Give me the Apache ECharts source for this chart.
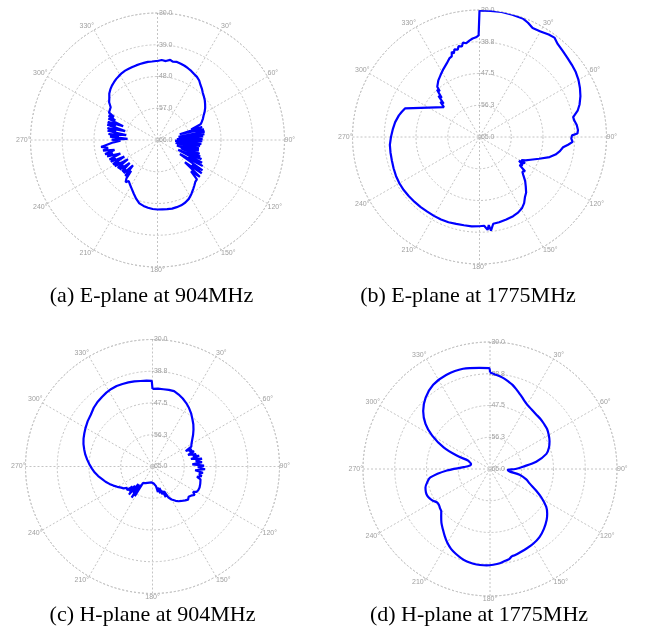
<!DOCTYPE html>
<html>
<head>
<meta charset="utf-8">
<script src="https://cdn.jsdelivr.net/npm/echarts@6/dist/echarts.min.js"></script>
<style>
  html, body { margin: 0; padding: 0; background: #fff; }
  #chart { width: 646px; height: 628px; }
</style>
</head>
<body>
<div id="chart"></div>
<script>
// Radial tick values (dB), outer ring last
const ticks904 = [-66, -57, -48, -39, -30];
const ticks1775 = [-65, -56.25, -47.5, -38.75, -30];

const captions = [
    '(a) E-plane at 904MHz',
    '(b) E-plane at 1775MHz',
    '(c) H-plane at 904MHz',
    '(d) H-plane at 1775MHz'
];

// [angle in degrees, gain in dB]
const ePlane904 = [
    [0, -43.6], [3, -43.3], [6, -43.5], [9, -43.0], [11, -43.4], [14, -43.2], [17, -43.4], [20, -43.6],
    [23, -43.9], [26, -44.2], [29, -44.6], [32, -44.9], [35, -45.4], [38, -46.2], [41, -46.8], [44, -47.5],
    [47, -48.0], [50, -48.5], [53, -49.1], [56, -49.7], [59, -50.4], [62, -51.2], [65, -51.8], [68, -52.5],
    [70, -53.0], [71, -53.2], [72.5, -56.0], [74, -52.8], [75.5, -59.5], [77, -52.5], [79, -55.0], [80, -52.4],
    [81.5, -60.0], [83, -52.6], [84, -57.0], [85.5, -53.0], [87.5, -60.5], [89, -53.2], [90, -55.5], [91.5, -53.3],
    [93, -61.0], [95, -53.5], [96.5, -58.0], [98, -53.8], [99.5, -60.8], [101.5, -54.0], [103, -56.5], [104.5, -53.9],
    [106, -60.3], [108, -53.4], [109.5, -59.0], [111, -53.0], [112, -55.5], [113.5, -52.4], [115.5, -59.5], [117, -51.8],
    [118.5, -56.0], [120, -51.2], [122, -58.5], [124, -50.6], [125.5, -54.0], [127, -50.3], [129, -56.0], [131, -50.1],
    [133, -53.0], [135, -50.2],
    [138, -50.0], [141, -49.4], [144, -48.8], [148, -47.9], [152, -47.1], [156, -46.6], [160, -46.3], [164, -46.2],
    [168, -46.1], [172, -46.2], [176, -46.3], [180, -46.3], [184, -46.4], [188, -46.6], [192, -46.9], [196, -47.3],
    [200, -48.3], [204, -49.4], [208, -50.4], [212, -51.2], [215, -51.8], [217, -51.0], [219, -52.0],
    [220.5, -54.5], [222, -52.3], [224, -56.0], [225.5, -52.6], [227, -53.8], [228.5, -52.6], [230.5, -55.8], [232, -52.4],
    [233.5, -54.0], [235, -52.2], [237, -56.0], [238.5, -51.8], [240, -53.5], [241.5, -51.6], [243.5, -55.5], [245, -51.4],
    [246.5, -53.0], [248, -51.3], [250, -54.8], [252, -51.0], [253.5, -52.8], [255, -50.6], [257, -53.5], [259, -50.3],
    [261, -51.8], [263, -49.9], [265, -49.7], [267, -53.5],
    [269, -55.5], [270.5, -53.0], [272, -57.5], [274, -52.5], [275.5, -55.0], [277, -52.0], [279, -57.0], [280.5, -51.6],
    [282, -54.0], [283.5, -51.4], [285.5, -56.5], [287, -51.1], [288.5, -53.5], [290, -51.0], [292, -55.5], [293.5, -50.8],
    [295, -52.8], [296.5, -50.5], [298, -52.0], [299.5, -50.2],
    [302, -50.3], [305, -49.8], [308, -48.6], [311, -47.9], [314, -47.0], [317, -46.4], [320, -45.9],
    [323, -45.5], [326, -45.1], [329, -44.8], [332, -44.5], [335, -44.3], [338, -44.2], [341, -44.1], [344, -44.0],
    [347, -43.9], [350, -43.8], [353, -43.7], [356, -43.7], [359, -43.6], [360, -43.6]
];

const ePlane1775 = [
    [0, -30.1], [5, -30.1], [10, -30.0], [15, -30.1], [20, -30.2], [23, -30.8], [26, -31.6], [30, -31.4],
    [34, -30.9], [37, -30.7], [40, -31.5], [44, -32.0], [48, -32.4], [52, -32.7], [56, -33.0], [60, -33.5],
    [64, -34.2], [68, -35.0], [72, -36.0], [75, -37.0], [78, -38.6], [80, -38.5], [83, -38.0], [86, -37.8],
    [88, -38.0], [89, -39.5], [91, -39.7], [93, -39.3], [95, -40.5], [97, -41.8], [100, -42.5], [103, -43.5],
    [106, -44.9], [110, -47.5], [114, -49.6], [117, -50.8], [119, -51.8], [120, -50.5], [121, -52.3], [123, -50.8],
    [125, -51.5], [127, -49.3], [129, -49.8], [131, -49.0], [134, -47.5], [137, -46.3], [140, -45.0], [143, -44.2],
    [146, -43.0], [149, -42.2], [153, -41.6], [157, -41.3], [162, -41.1], [167, -40.9], [171, -40.8], [173, -39.0],
    [174, -40.6], [175, -39.3], [177, -40.5], [180, -40.4], [185, -40.3], [190, -40.3], [195, -40.2], [200, -40.0],
    [205, -39.9], [210, -39.9], [215, -39.9], [220, -39.8], [225, -39.7], [230, -39.6], [235, -39.5], [240, -39.5],
    [245, -39.6], [250, -39.8], [255, -40.0], [260, -40.1], [265, -40.2], [270, -40.6], [275, -41.0], [280, -41.4],
    [285, -42.0], [288, -42.5], [291, -43.0], [310, -52.2], [312, -50.5], [313, -51.5], [315, -49.0], [316, -50.0],
    [318, -47.5], [319, -48.3], [320, -46.9], [324, -45.7], [328, -44.8], [332, -43.8], [336, -42.8], [339, -41.8],
    [341, -41.5], [342, -40.3], [343, -40.9], [344, -39.9], [346, -40.2], [347, -39.3], [349, -39.6], [350, -38.6],
    [352, -38.9], [354, -38.3], [356, -37.8], [358, -37.5], [359.5, -37.0], [360, -30.1]
];

const hPlane904 = [
    [0, -43.6], [4, -43.5], [8, -43.5], [12, -43.4], [16, -43.4], [20, -43.9], [24, -44.5], [28, -45.2],
    [32, -46.0], [36, -46.9], [40, -47.9], [44, -48.8], [48, -49.8], [52, -50.8], [56, -51.8], [60, -52.6],
    [63, -53.0], [65, -54.9], [66.5, -53.2], [68, -54.0], [70, -52.8], [72, -54.7], [74, -52.5], [75.5, -53.5],
    [77, -51.8], [79, -54.2], [81, -51.2], [83, -53.0], [85, -51.3], [87, -54.0], [89, -50.8], [91, -52.5],
    [93, -50.5], [95, -53.2], [97, -51.0], [99, -52.0], [101, -51.2], [103, -52.4], [105, -51.3], [110, -51.0],
    [114, -50.8], [117, -50.8], [120, -51.0], [122, -51.8], [124, -51.0], [126, -51.5], [128, -51.3], [130, -52.0],
    [133, -51.6], [136, -52.0], [140, -52.6], [143, -53.0], [146, -53.6], [150, -54.5], [153, -55.5], [155, -57.5],
    [156.5, -55.8], [158, -57.8], [160, -56.8], [162, -58.8], [164, -57.3], [166, -59.0], [168, -57.8], [170, -59.5],
    [173, -59.8], [176, -60.3], [179, -60.6], [183, -60.6], [190, -60.6], [197, -60.3], [203, -60.0], [207, -59.8],
    [210, -59.7], [211, -55.5], [212.5, -59.0], [214, -54.7], [215.5, -58.5], [217, -56.0], [218.5, -58.8], [220, -54.9],
    [222, -57.8], [223.5, -55.6], [225, -57.2], [227, -55.5], [230, -55.8], [233, -55.0], [236, -54.6], [240, -53.8],
    [244, -53.0], [248, -52.2],
    [252, -51.4], [256, -50.7], [260, -49.8], [264, -49.0], [268, -48.3], [272, -47.6], [276, -46.9], [280, -46.2],
    [284, -45.6], [288, -45.0], [292, -44.5], [296, -44.1], [300, -43.7], [305, -43.2], [310, -42.8], [315, -42.1],
    [320, -41.6], [324, -41.3], [328, -41.0], [332, -40.8], [336, -40.7], [340, -40.8], [344, -40.9], [348, -41.0],
    [352, -41.2], [356, -41.3], [359.5, -41.4], [360, -43.6]
];

const hPlane1775 = [
    [0, -38.4], [3, -38.9], [6, -39.3], [9, -39.8], [12, -40.4], [15, -41.0], [18, -41.8], [21, -42.6],
    [24, -43.3], [27, -44.0], [30, -44.5], [35, -45.0], [40, -45.3], [45, -45.4], [50, -45.6], [55, -45.8],
    [60, -46.3], [65, -46.9], [70, -47.7], [75, -48.9], [81, -52.1], [86, -55.9], [90, -58.0], [93, -60.1],
    [97, -59.6], [101, -56.7], [106, -54.6], [110, -53.4], [115, -51.0], [119, -48.8], [124, -46.3], [128, -45.0],
    [132, -44.0], [138, -42.8], [144, -41.8], [150, -41.2], [155, -40.9], [160, -40.6], [164, -40.3], [166, -40.2],
    [168, -39.6], [170, -39.4], [174, -38.9], [178, -38.6], [182, -38.4], [186, -38.4], [190, -38.5], [194, -38.7],
    [198, -39.2], [202, -39.8], [206, -40.5], [210, -41.5], [214, -42.7], [218, -43.9], [222, -45.0], [226, -46.3],
    [229, -47.2], [232, -47.5], [235, -47.8], [238, -47.7], [241, -47.0], [244, -46.5], [247, -46.2], [250, -46.2],
    [254, -46.5], [258, -47.3], [262, -48.4], [268, -53.1], [274, -57.7], [280, -59.4], [285, -59.6], [289, -59.0],
    [291, -58.6], [292, -55.1], [295, -50.9], [300, -46.6], [305, -43.3], [311, -40.6], [318, -38.5], [326, -37.0],
    [335, -36.4], [345, -36.4], [354, -37.0], [359.5, -37.2], [360, -38.4]
];

const panels = [
    { data: ePlane904, ticks: ticks904, center: [157.5, 140], caption: [151.5, 285] },
    { data: ePlane1775, ticks: ticks1775, center: [479.5, 137], caption: [468, 285] },
    { data: hPlane904, ticks: ticks1775, center: [152.5, 466.5], caption: [152.5, 604] },
    { data: hPlane1775, ticks: ticks1775, center: [490, 469], caption: [479, 604] }
];

const gridColor = '#c4c4c4';
const labelColor = '#a0a0a0';
const labelFont = 'Liberation Sans';

const chart = echarts.init(document.getElementById('chart'), null, { renderer: 'canvas' });

const option = {
    backgroundColor: '#fff',
    animation: false,
    title: panels.map((p, i) => ({
        text: captions[i],
        left: p.caption[0] - 5,
        top: p.caption[1] - 5,
        textAlign: 'center',
        textVerticalAlign: 'top',
        textStyle: { fontFamily: 'Liberation Serif', fontSize: 22, fontWeight: 'normal', color: '#000' }
    })),
    polar: panels.map(p => ({ center: p.center, radius: 127 })),
    angleAxis: panels.map((p, i) => ({
        polarIndex: i,
        type: 'value',
        min: 0,
        max: 360,
        interval: 30,
        startAngle: 90,
        clockwise: true,
        axisLine: { show: true, lineStyle: { color: gridColor, width: 1, type: [2, 2] } },
        axisTick: { show: false },
        axisLabel: {
            margin: 0,
            color: labelColor,
            fontSize: 7,
            fontFamily: labelFont,
            formatter: v => (v % 360 === 0 ? '' : v + '°')
        },
        splitLine: { show: true, lineStyle: { color: gridColor, width: 1, type: [2, 2] } }
    })),
    radiusAxis: panels.map((p, i) => ({
        polarIndex: i,
        type: 'value',
        min: p.ticks[0],
        max: p.ticks[p.ticks.length - 1],
        interval: p.ticks[1] - p.ticks[0],
        axisLine: { show: false },
        axisTick: { show: false },
        axisLabel: {
            margin: -15,
            color: labelColor,
            fontSize: 7,
            fontFamily: labelFont,
            showMinLabel: true,
            showMaxLabel: true,
            formatter: v => v.toFixed(1)
        },
        splitLine: { show: true, lineStyle: { color: gridColor, width: 1, type: [2, 2] } }
    })),
    series: panels.map((p, i) => ({
        type: 'line',
        coordinateSystem: 'polar',
        polarIndex: i,
        showSymbol: false,
        smooth: i === 3 ? 0.3 : false,
        lineStyle: { color: '#0000ff', width: 2.2 },
        data: p.data.map(d => [d[1], d[0]])
    }))
};

chart.setOption(option);
</script>
</body>
</html>
